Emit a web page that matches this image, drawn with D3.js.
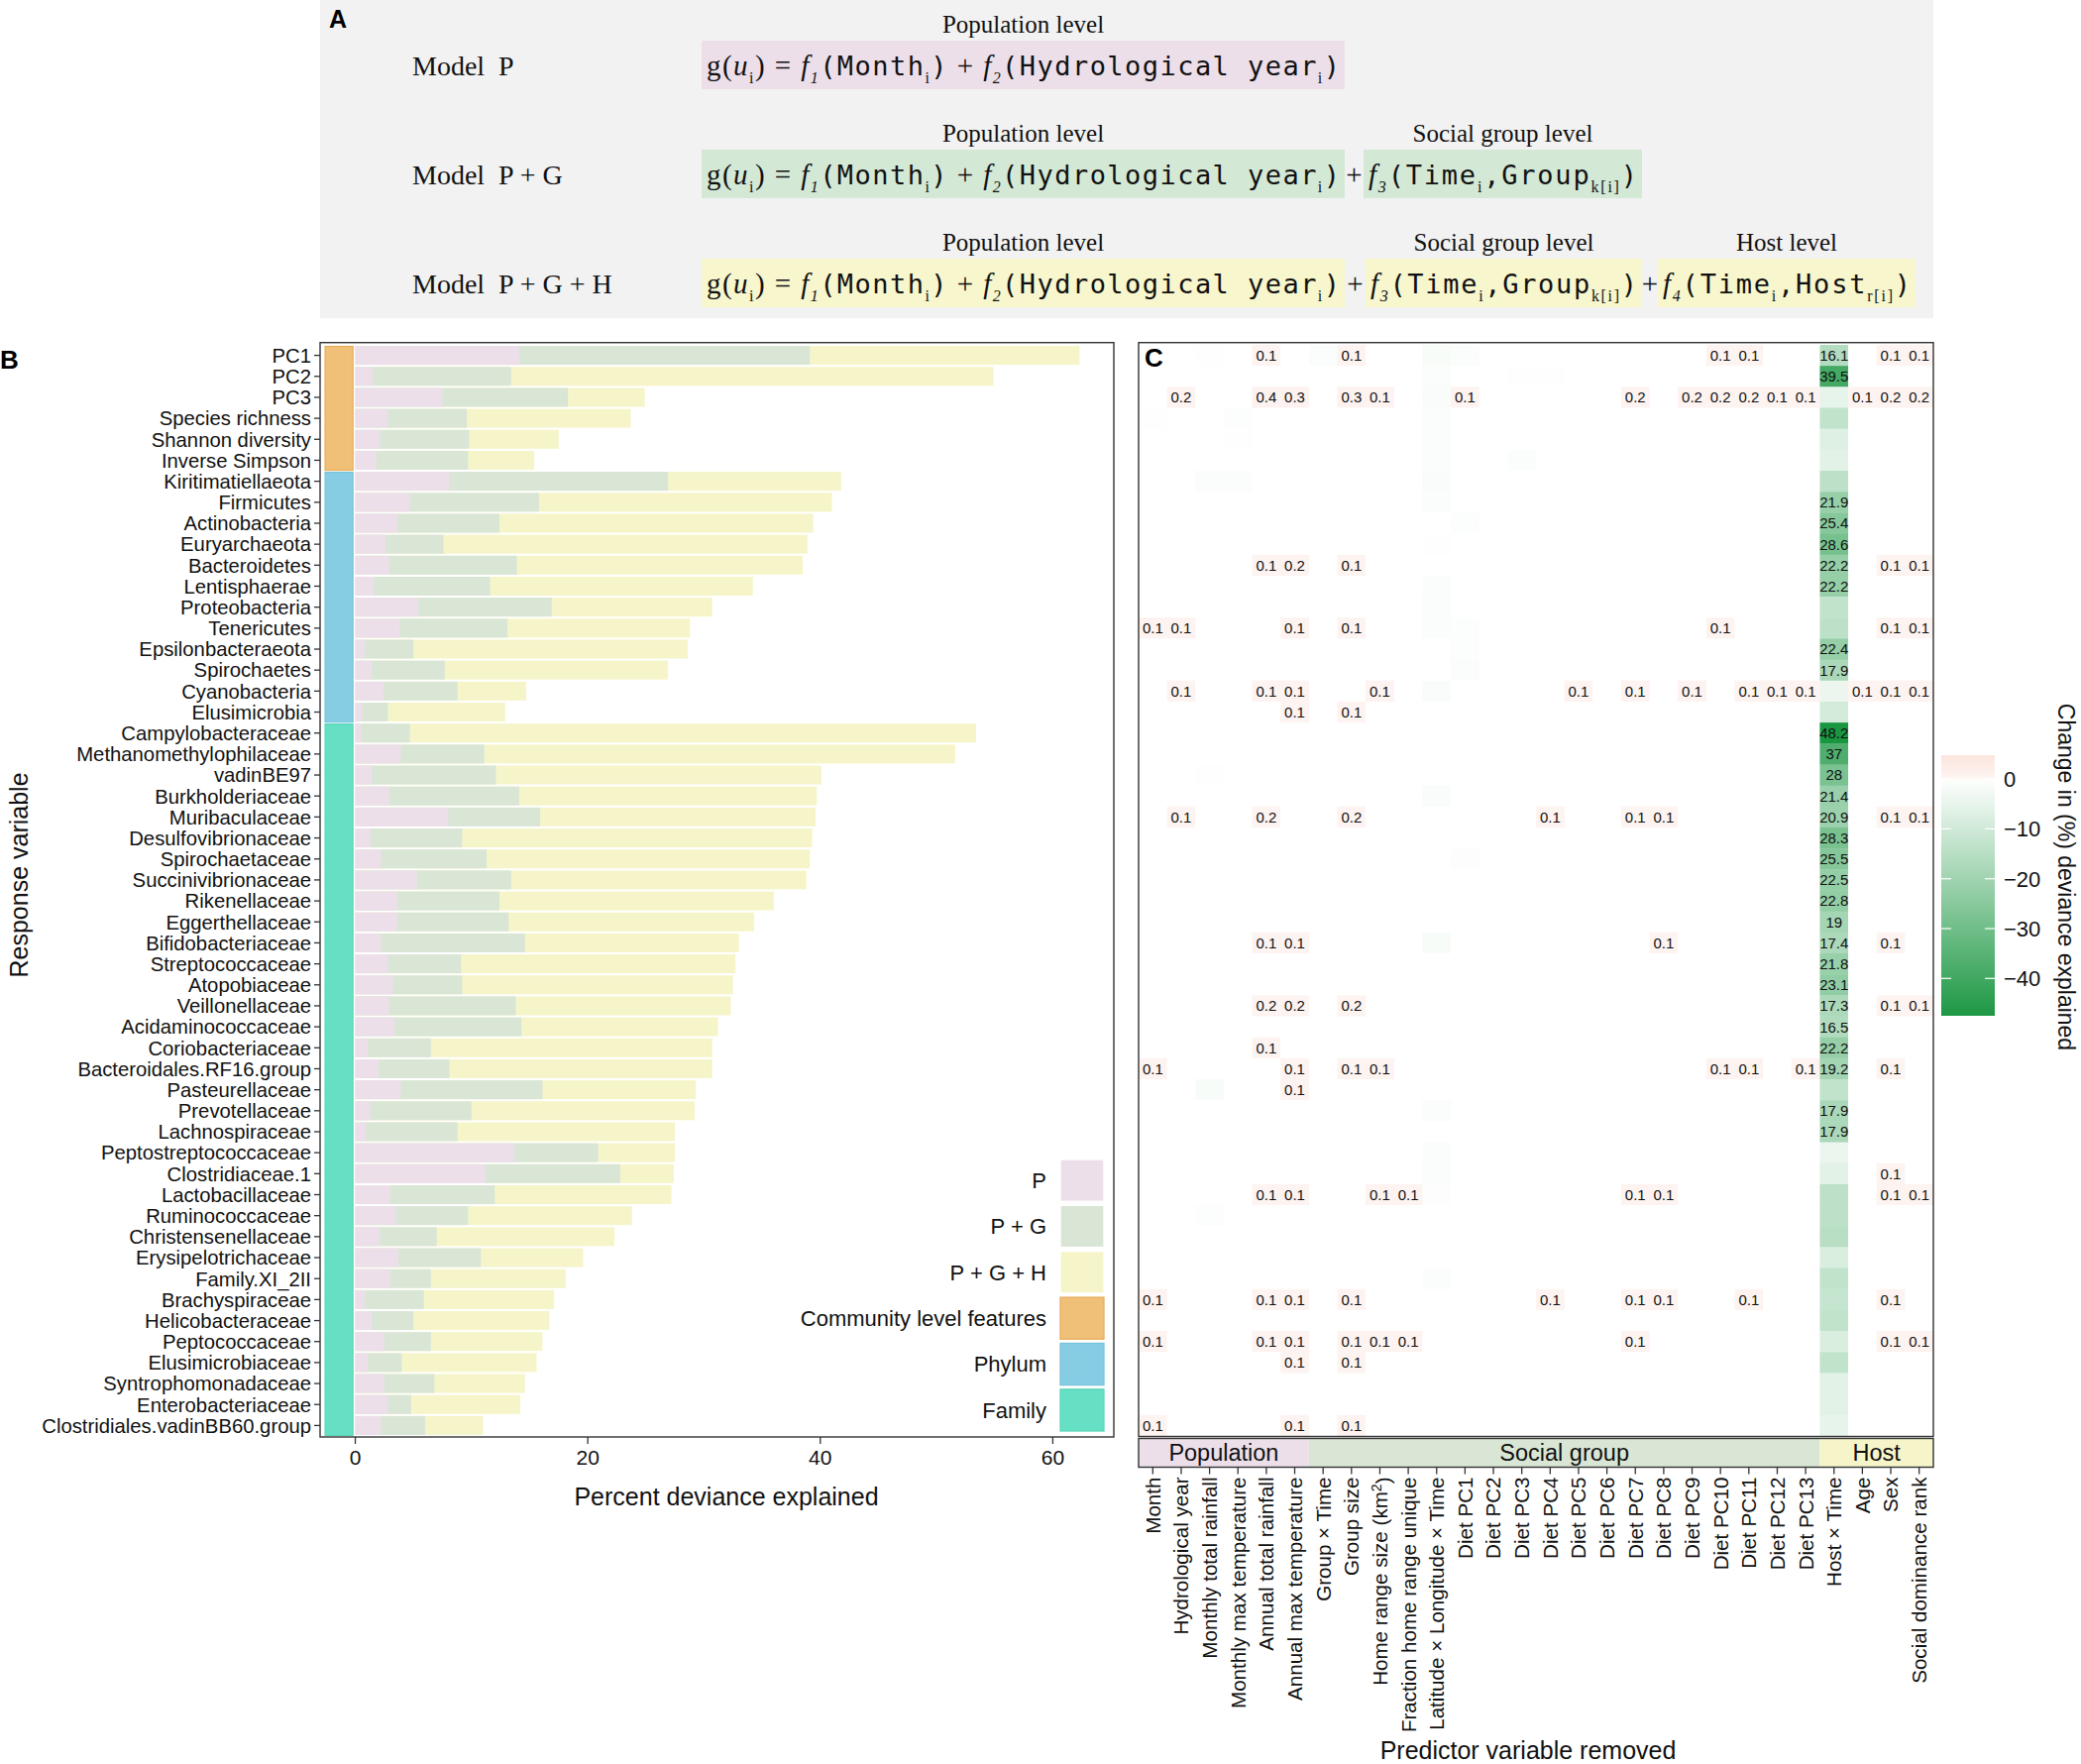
<!DOCTYPE html>
<html><head><meta charset="utf-8">
<script src="https://cdn.jsdelivr.net/npm/d3@7"></script>
<style>body{margin:0;background:#fff}</style>
</head><body><svg id="c" width="2100" height="1780"></svg>
<script>
// ---------------- DATA ----------------
const responses = ["PC1","PC2","PC3","Species richness","Shannon diversity","Inverse Simpson",
"Kiritimatiellaeota","Firmicutes","Actinobacteria","Euryarchaeota","Bacteroidetes","Lentisphaerae","Proteobacteria","Tenericutes","Epsilonbacteraeota","Spirochaetes","Cyanobacteria","Elusimicrobia",
"Campylobacteraceae","Methanomethylophilaceae","vadinBE97","Burkholderiaceae","Muribaculaceae","Desulfovibrionaceae","Spirochaetaceae","Succinivibrionaceae","Rikenellaceae","Eggerthellaceae","Bifidobacteriaceae","Streptococcaceae","Atopobiaceae","Veillonellaceae","Acidaminococcaceae","Coriobacteriaceae","Bacteroidales.RF16.group","Pasteurellaceae","Prevotellaceae","Lachnospiraceae","Peptostreptococcaceae","Clostridiaceae.1","Lactobacillaceae","Ruminococcaceae","Christensenellaceae","Erysipelotrichaceae","Family.XI_2II","Brachyspiraceae","Helicobacteraceae","Peptococcaceae","Elusimicrobiaceae","Syntrophomonadaceae","Enterobacteriaceae","Clostridiales.vadinBB60.group"];
const responseTypes = ["Community level features","Phylum","Family"];
const responseTypeCounts = [6, 12, 34];
const devP = [14.1,1.5,7.5,2.8,2.1,1.8, 8.1,4.7,3.6,2.6,2.9,1.6,5.4,3.8,0.8,1.4,2.4,0.6,
 0.5,3.9,1.4,2.9,8.0,1.3,2.2,5.3,3.6,3.6,2.2,2.8,3.2,2.9,3.4,1.1,2.0,3.9,
 1.3,0.9,13.7,11.2,3.0,3.5,2.1,3.7,3.0,0.8,1.4,2.5,1.1,2.5,2.8,2.2];
const devPG = [39.1,13.4,18.3,9.6,9.8,9.7, 26.9,15.8,12.4,7.6,13.9,11.6,16.9,13.1,5.0,7.7,8.8,2.8,
 4.7,11.1,12.1,14.1,15.9,9.2,11.3,13.4,12.4,13.2,14.6,9.1,9.2,13.8,14.3,6.5,8.1,16.1,
 10.0,8.8,20.9,22.8,12.0,9.7,7.0,10.8,6.5,5.9,5.0,6.5,4.0,6.8,4.8,6.0];
const devPGH = [62.3,54.9,24.9,23.7,17.5,15.4, 41.8,41.0,39.4,38.9,38.5,34.2,30.7,28.8,28.6,26.9,14.7,12.9,
 53.4,51.6,40.1,39.7,39.6,39.3,39.1,38.8,36.0,34.3,33.0,32.7,32.5,32.3,31.2,30.7,30.7,29.3,
 29.2,27.5,27.5,27.4,27.2,23.8,22.3,19.6,18.1,17.1,16.7,16.1,15.6,14.6,14.2,11.0];
const modelNames = ["P","P + G","P + G + H"];
const xTicksB = [0,20,40,60];

const predictors = ["Month","Hydrological year","Monthly total rainfall","Monthly max temperature","Annual total rainfall","Annual max temperature",
"Group × Time","Group size","Home range size (km2)","Fraction home range unique","Latitude × Longitude × Time",
"Diet PC1","Diet PC2","Diet PC3","Diet PC4","Diet PC5","Diet PC6","Diet PC7","Diet PC8","Diet PC9","Diet PC10","Diet PC11","Diet PC12","Diet PC13",
"Host × Time","Age","Sex","Social dominance rank"];
const predictorLevels = ["Population","Social group","Host"];
const predictorLevelCounts = [6, 18, 4];
// change in deviance explained when Host x Time is removed (one per response)
const hostTimeChange = [-16.1,-39.5,-5,-13,-7,-6,-14,-21.9,-25.4,-28.6,-22.2,-22.2,-13,-14,-22.4,-17.9,-4,-9,
 -48.2,-37,-28,-21.4,-20.9,-28.3,-25.5,-22.5,-22.8,-19,-17.4,-21.8,-23.1,-17.3,-16.5,-22.2,-19.2,-13,-17.9,-17.9,
 -4,-6,-14,-14,-15,-8,-13,-12,-13,-8,-13,-6,-6,-5];
// [response index, predictor index, change]
const positiveCells = [
 [0,4,.1],[0,7,.1],[0,20,.1],[0,21,.1],[0,26,.1],[0,27,.1],
 [2,1,.2],[2,4,.4],[2,5,.3],[2,7,.3],[2,8,.1],[2,11,.1],[2,17,.2],[2,19,.2],[2,20,.2],[2,21,.2],[2,22,.1],[2,23,.1],[2,25,.1],[2,26,.2],[2,27,.2],
 [10,4,.1],[10,5,.2],[10,7,.1],[10,26,.1],[10,27,.1],
 [13,0,.1],[13,1,.1],[13,5,.1],[13,7,.1],[13,20,.1],[13,26,.1],[13,27,.1],
 [16,1,.1],[16,4,.1],[16,5,.1],[16,8,.1],[16,15,.1],[16,17,.1],[16,19,.1],[16,21,.1],[16,22,.1],[16,23,.1],[16,25,.1],[16,26,.1],[16,27,.1],
 [17,5,.1],[17,7,.1],
 [22,1,.1],[22,4,.2],[22,7,.2],[22,14,.1],[22,17,.1],[22,18,.1],[22,26,.1],[22,27,.1],
 [28,4,.1],[28,5,.1],[28,18,.1],[28,26,.1],
 [31,4,.2],[31,5,.2],[31,7,.2],[31,26,.1],[31,27,.1],
 [33,4,.1],
 [34,0,.1],[34,5,.1],[34,7,.1],[34,8,.1],[34,20,.1],[34,21,.1],[34,23,.1],[34,26,.1],
 [35,5,.1],
 [39,26,.1],
 [40,4,.1],[40,5,.1],[40,8,.1],[40,9,.1],[40,17,.1],[40,18,.1],[40,26,.1],[40,27,.1],
 [45,0,.1],[45,4,.1],[45,5,.1],[45,7,.1],[45,14,.1],[45,17,.1],[45,18,.1],[45,21,.1],[45,26,.1],
 [47,0,.1],[47,4,.1],[47,5,.1],[47,7,.1],[47,8,.1],[47,9,.1],[47,17,.1],[47,26,.1],[47,27,.1],
 [48,5,.1],[48,7,.1],
 [51,0,.1],[51,5,.1],[51,7,.1]];
const faintCells = [
 [0,2,-.5],[0,6,-1],[0,10,-1.5],[0,11,-1],[1,10,-1],[1,13,-.5],[1,14,-.5],[2,10,-1.2],[3,0,-.5],[3,3,-.6],[3,10,-1],
 [4,3,-.5],[4,10,-1],[5,10,-1],[5,13,-.8],[6,2,-.8],[6,3,-.8],[6,10,-1.3],[7,10,-1],[8,11,-.6],[9,10,-.5],[11,10,-.8],
 [12,10,-1],[13,10,-1],[13,11,-.6],[14,11,-.6],[15,11,-.8],[16,10,-1.2],[20,2,-.5],[21,10,-1.2],[24,11,-.7],
 [28,10,-1.5],[35,2,-1.5],[36,10,-1],[38,10,-.8],[39,10,-1],[40,10,-.7],[41,2,-.6],[44,10,-.8]];
const legendTicks = [0,-10,-20,-30,-40];

// ---------------- SETUP ----------------
const svg = d3.select("#c");
const SANS = "'Liberation Sans', Arial, Helvetica, sans-serif";
const SERIF = "'Liberation Serif', 'Times New Roman', serif";
const MONO = "'DejaVu Sans Mono', 'Liberation Mono', monospace";
svg.append("rect").attr("width",2100).attr("height",1780).attr("fill","#fff");

const modelFill = {"P":"#ecdfea","P + G":"#d9e6d6","P + G + H":"#f6f5c9"};
const typeFill = {"Community level features":"#f0c078","Phylum":"#86cde4","Family":"#66e0c4"};
const typeStroke = {"Community level features":"#e9ad5c","Phylum":"#78c4dd","Family":"#5dd8bb"};

// ---------------- PANEL A ----------------
const gA = svg.append("g");
gA.append("rect").attr("x",323).attr("y",0).attr("width",1628).attr("height",321).attr("fill","#f2f2f2");
gA.append("text").attr("x",332).attr("y",28).text("A").attr("font-family",SANS).attr("font-weight","bold").attr("font-size",25);

const popSegs = [["g(","s"],["u","si"],["i","sub"],[")","s"],[" = ","s"],["f","si"],["1","subi"],["(Month","m"],["i","sub"],[")","m"],[" + ","s"],["f","si"],["2","subi"],["(Hydrological year","m"],["i","sub"],[")","m"]];
const grpSegs = [["f","si"],["3","subi"],["(Time","m"],["i","sub"],[",Group","m"],["k[i]","sub"],[")","m"]];
const hostSegs = [["f","si"],["4","subi"],["(Time","m"],["i","sub"],[",Host","m"],["r[i]","sub"],[")","m"]];
const eqRows = [
 {model:"Model  P", top:41, fill:"#ecdfea", boxes:[{lvl:"Population level",x0:708,x1:1357,segs:popSegs}]},
 {model:"Model  P + G", top:151, fill:"#d4e8d6", boxes:[{lvl:"Population level",x0:708,x1:1357,segs:popSegs},{lvl:"Social group level",x0:1376,x1:1657,segs:grpSegs}]},
 {model:"Model  P + G + H", top:261, fill:"#f7f6cd", boxes:[{lvl:"Population level",x0:708,x1:1357,segs:popSegs},{lvl:"Social group level",x0:1378,x1:1657,segs:grpSegs},{lvl:"Host level",x0:1673,x1:1933,segs:hostSegs}]}
];
function drawEq(g, x, base, segs, len){
  const t = g.append("text").attr("x",x).attr("y",base).attr("textLength",len).attr("lengthAdjust","spacing")
    .style("white-space","pre").attr("fill","#111");
  let shift = 0;
  segs.forEach(([s,k])=>{
    const isSub = (k==="sub"||k==="subi");
    const target = isSub ? 8 : 0;
    const ts = t.append("tspan").attr("dy", target-shift).text(s);
    shift = target;
    if (k==="m") ts.attr("font-family",MONO).attr("font-size",27);
    else if (k==="s") ts.attr("font-family",SERIF).attr("font-size",29);
    else if (k==="si") ts.attr("font-family",SERIF).attr("font-style","italic").attr("font-size",29);
    else if (k==="sub") ts.attr("font-family",SERIF).attr("font-size",16);
    else ts.attr("font-family",SERIF).attr("font-style","italic").attr("font-size",16);
  });
}
eqRows.forEach(r=>{
  const bh = 49, base = r.top + bh/2 + 10;
  gA.append("text").attr("x",416).attr("y",base).text(r.model).style("white-space","pre")
    .attr("font-family",SERIF).attr("font-size",28).attr("fill","#111");
  r.boxes.forEach((b,i)=>{
    gA.append("rect").attr("x",b.x0).attr("y",r.top).attr("width",b.x1-b.x0).attr("height",bh).attr("fill",r.fill);
    gA.append("text").attr("x",(b.x0+b.x1)/2).attr("y",r.top-8).attr("text-anchor","middle").text(b.lvl)
      .attr("font-family",SERIF).attr("font-size",25).attr("fill","#111");
    drawEq(gA, b.x0+5, base, b.segs, b.x1-b.x0-10);
    if (i>0){
      const px = (r.boxes[i-1].x1 + b.x0)/2;
      gA.append("text").attr("x",px).attr("y",base).attr("text-anchor","middle").text("+")
        .attr("font-family",SERIF).attr("font-size",29).attr("fill","#111");
    }
  });
});

// ---------------- PANEL B ----------------
const gB = svg.append("g");
const panTop = 345.7, panBot = 1450;
const yB = d3.scaleBand().domain(responses).range([348,1449]).paddingInner(0.1).paddingOuter(0.05);
const yRow = d3.scaleBand().domain(responses).range([348,1449]).padding(0);
const xB = d3.scaleLinear().domain([-3.03,65.25]).range([323,1124]);
gB.append("text").attr("x",0).attr("y",372).text("B").attr("font-family",SANS).attr("font-weight","bold").attr("font-size",26);

const barRows = responses.map((r,i)=>({r, vals:[devP[i],devPG[i],devPGH[i]]}));
[2,1,0].forEach(m=>{
  gB.append("g").selectAll("rect").data(barRows).join("rect")
    .attr("x",xB(0)).attr("y",d=>yB(d.r)).attr("height",yB.bandwidth())
    .attr("width",d=>xB(d.vals[m])-xB(0)).attr("fill",modelFill[modelNames[m]]);
});
// type strip
let start = 0;
const typeSpans = responseTypes.map((t,i)=>{ const s={t, a:start, b:start+responseTypeCounts[i]-1}; start+=responseTypeCounts[i]; return s;});
gB.append("g").selectAll("rect").data(typeSpans).join("rect")
  .attr("x",xB(-2.6)).attr("width",xB(-0.2)-xB(-2.6))
  .attr("y",d=>yRow(responses[d.a])+1.5).attr("height",d=>yRow(responses[d.b])+yRow.bandwidth()-yRow(responses[d.a])-2)
  .attr("fill",d=>typeFill[d.t]).attr("stroke",d=>typeStroke[d.t]).attr("stroke-width",1.2);
// frame
gB.append("rect").attr("x",323).attr("y",panTop).attr("width",1124-323).attr("height",panBot-panTop)
  .attr("fill","none").attr("stroke","#333").attr("stroke-width",1.4);
// y axis
const yAx = gB.append("g");
yAx.selectAll("line").data(responses).join("line")
  .attr("x1",317).attr("x2",323).attr("y1",d=>yB(d)+yB.bandwidth()/2).attr("y2",d=>yB(d)+yB.bandwidth()/2)
  .attr("stroke","#333").attr("stroke-width",1.3);
yAx.selectAll("text").data(responses).join("text")
  .attr("x",314).attr("y",d=>yB(d)+yB.bandwidth()/2).attr("dy","0.36em").attr("text-anchor","end")
  .text(d=>d).attr("font-family",SANS).attr("font-size",20.3).attr("fill","#111");
// x axis
const xAx = gB.append("g");
xAx.selectAll("line").data(xTicksB).join("line").attr("x1",d=>xB(d)).attr("x2",d=>xB(d))
  .attr("y1",panBot).attr("y2",panBot+7).attr("stroke","#333").attr("stroke-width",1.3);
xAx.selectAll("text").data(xTicksB).join("text").attr("x",d=>xB(d)).attr("y",1478).attr("text-anchor","middle")
  .text(d=>d).attr("font-family",SANS).attr("font-size",21).attr("fill","#111");
gB.append("text").attr("x",733).attr("y",1519).attr("text-anchor","middle").text("Percent deviance explained")
  .attr("font-family",SANS).attr("font-size",25).attr("fill","#111");
gB.append("text").attr("transform","translate(28,883) rotate(-90)").attr("text-anchor","middle").text("Response variable")
  .attr("font-family",SANS).attr("font-size",25).attr("fill","#111");
// legend
const legItems = modelNames.map(m=>({lab:m, fill:modelFill[m], stroke:"#fff"}))
  .concat(responseTypes.map(t=>({lab:t, fill:typeFill[t], stroke:typeStroke[t]})));
const legY = d3.scaleBand().domain(legItems.map(d=>d.lab)).range([1170,1444]).paddingInner(0.09);
const lg = gB.append("g");
lg.selectAll("rect").data(legItems).join("rect").attr("x",1070).attr("width",44)
  .attr("y",d=>legY(d.lab)).attr("height",legY.bandwidth()).attr("fill",d=>d.fill).attr("stroke",d=>d.stroke).attr("stroke-width",1.3);
lg.selectAll("text").data(legItems).join("text").attr("x",1056).attr("y",d=>legY(d.lab)+legY.bandwidth()/2)
  .attr("dy","0.36em").attr("text-anchor","end").text(d=>d.lab).attr("font-family",SANS).attr("font-size",22).attr("fill","#111");

// ---------------- PANEL C ----------------
const gC = svg.append("g");
const xC = d3.scaleBand().domain(predictors).range([1149,1951]).padding(0);
const heat = responses.map(()=>predictors.map(()=>0));
faintCells.forEach(([r,c,v])=>heat[r][c]=v);
hostTimeChange.forEach((v,i)=>heat[i][24]=v);
positiveCells.forEach(([r,c,v])=>heat[r][c]=v);
const cells = [];
heat.forEach((row,i)=>row.forEach((v,j)=>cells.push({r:responses[i], p:predictors[j], v})));
const negColor = d3.scaleLinear().domain([-48.2,0]).range(["#1a9641","#ffffff"]).clamp(true);
const posColor = d3.scaleLinear().domain([0,0.1,4.8]).range(["#ffffff","#fdf3f0","#fce5de"]).clamp(true);
const fillOf = v => v>=0 ? posColor(v) : negColor(v);
gC.append("g").selectAll("rect").data(cells).join("rect")
  .attr("x",d=>xC(d.p)).attr("y",d=>yRow(d.r)).attr("width",xC.bandwidth()+0.4).attr("height",yRow.bandwidth()+0.4)
  .attr("fill",d=>fillOf(d.v));
const labeled = cells.filter(d=>d.v>0 || d.v<=-16);
gC.append("g").selectAll("text").data(labeled).join("text")
  .attr("x",d=>xC(d.p)+xC.bandwidth()/2).attr("y",d=>yRow(d.r)+yRow.bandwidth()/2).attr("dy","0.36em")
  .attr("text-anchor","middle").text(d=>String(Math.abs(d.v))).attr("font-family",SANS).attr("font-size",15).attr("fill","#111");
gC.append("rect").attr("x",1149).attr("y",panTop).attr("width",1951-1149).attr("height",1449.5-panTop)
  .attr("fill","none").attr("stroke","#333").attr("stroke-width",1.4);
gC.append("text").attr("x",1155).attr("y",370).text("C").attr("font-family",SANS).attr("font-weight","bold").attr("font-size",26);
// level strip
let cs = 0;
const levelSpans = predictorLevels.map((l,i)=>{ const s={l, a:cs, b:cs+predictorLevelCounts[i]-1}; cs+=predictorLevelCounts[i]; return s;});
const levelFill = {"Population":"#ecdfea","Social group":"#d9e6d6","Host":"#f6f5c9"};
const stripTop = 1451.5, stripH = 29;
gC.append("g").selectAll("rect").data(levelSpans).join("rect")
  .attr("x",d=>xC(predictors[d.a])).attr("width",d=>xC(predictors[d.b])+xC.bandwidth()-xC(predictors[d.a]))
  .attr("y",stripTop).attr("height",stripH).attr("fill",d=>levelFill[d.l]);
gC.append("g").selectAll("text").data(levelSpans).join("text")
  .attr("x",d=>(xC(predictors[d.a])+xC(predictors[d.b])+xC.bandwidth())/2).attr("y",stripTop+stripH/2).attr("dy","0.36em")
  .attr("text-anchor","middle").text(d=>d.l).attr("font-family",SANS).attr("font-size",23.5).attr("fill","#111");
gC.append("rect").attr("x",1149).attr("y",stripTop).attr("width",1951-1149).attr("height",stripH)
  .attr("fill","none").attr("stroke","#333").attr("stroke-width",1.4);
// x axis
const tickTop = stripTop+stripH;
gC.append("g").selectAll("line").data(predictors).join("line")
  .attr("x1",d=>xC(d)+xC.bandwidth()/2).attr("x2",d=>xC(d)+xC.bandwidth()/2).attr("y1",tickTop).attr("y2",tickTop+7)
  .attr("stroke","#333").attr("stroke-width",1.3);
const xl = gC.append("g").selectAll("text").data(predictors).join("text")
  .attr("transform",d=>`translate(${xC(d)+xC.bandwidth()/2},${tickTop+10}) rotate(-90)`)
  .attr("dy","0.36em").attr("text-anchor","end").attr("font-family",SANS).attr("font-size",20.6).attr("fill","#111");
xl.each(function(d){
  const t = d3.select(this);
  if (d.includes("(km2)")){
    t.append("tspan").text(d.replace("km2)","km"));
    t.append("tspan").attr("dy","-0.45em").attr("font-size",14).text("2");
    t.append("tspan").attr("dy","0.45em").text(")");
  } else t.text(d);
});
gC.append("text").attr("x",1542).attr("y",1775).attr("text-anchor","middle").text("Predictor variable removed")
  .attr("font-family",SANS).attr("font-size",25).attr("fill","#111");

// colour bar legend
const cbY = d3.scaleLinear().domain([4.8,-47.5]).range([762,1025]);
const defs = svg.append("defs");
const grad = defs.append("linearGradient").attr("id","cb").attr("x1",0).attr("x2",0).attr("y1",0).attr("y2",1);
d3.range(0,41).forEach(k=>{
  const v = 4.8 + (-47.5-4.8)*k/40;
  grad.append("stop").attr("offset",k/40).attr("stop-color",fillOf(v));
});
const gL = svg.append("g");
gL.append("rect").attr("x",1959).attr("y",cbY(4.8)).attr("width",54).attr("height",cbY(-47.5)-cbY(4.8)).attr("fill","url(#cb)");
gL.selectAll("line.l").data(legendTicks).join("line").attr("class","l")
  .attr("x1",1959).attr("x2",1969).attr("y1",d=>cbY(d)).attr("y2",d=>cbY(d)).attr("stroke","#fff").attr("stroke-width",1.2);
gL.selectAll("line.r").data(legendTicks).join("line").attr("class","r")
  .attr("x1",2003).attr("x2",2013).attr("y1",d=>cbY(d)).attr("y2",d=>cbY(d)).attr("stroke","#fff").attr("stroke-width",1.2);
gL.selectAll("text").data(legendTicks).join("text").attr("x",2022).attr("y",d=>cbY(d)).attr("dy","0.36em")
  .text(d=>d===0?"0":"\u2212"+Math.abs(d)).attr("font-family",SANS).attr("font-size",22).attr("fill","#111");
gL.append("text").attr("transform","translate(2077,885) rotate(90)").attr("text-anchor","middle")
  .text("Change in (%) deviance explained").attr("font-family",SANS).attr("font-size",23).attr("fill","#111");
</script></body></html>
